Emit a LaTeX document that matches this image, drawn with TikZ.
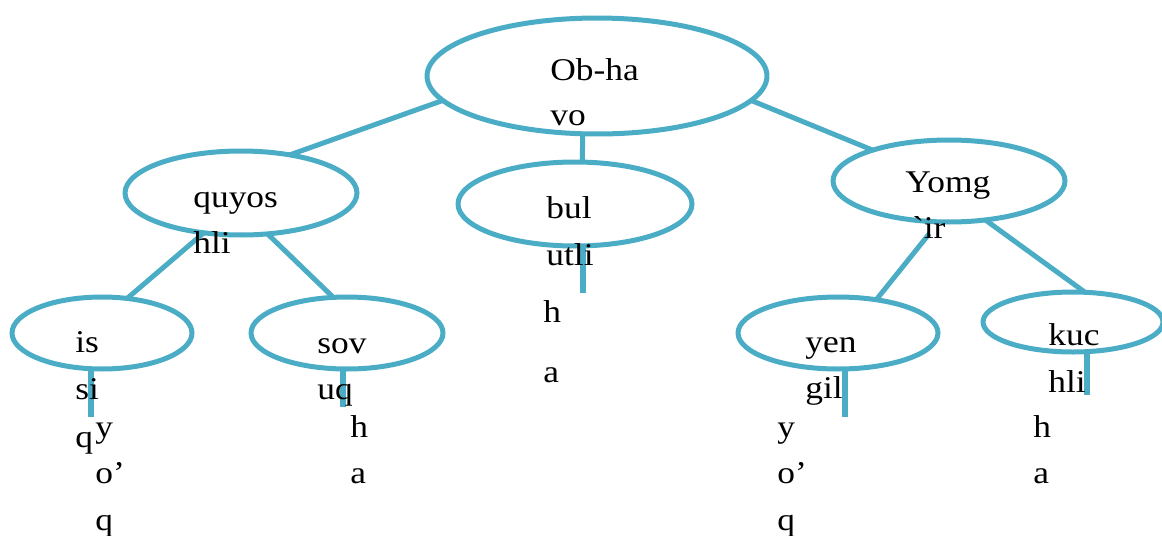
\documentclass[tikz,border=0pt]{standalone}
\usepackage{fontspec}
\setmainfont{Liberation Serif}[FakeStretch=1.12]
\usepackage{tikz}
\usetikzlibrary{shapes.geometric, calc}
\definecolor{treeblue}{HTML}{4BACC6}
\tikzset{
  treenode/.style={
    ellipse, draw=treeblue, line width=0.1cm, inner sep=0pt, outer sep=0pt
  },
  treelink/.style={
    draw=treeblue, line width=0.1cm
  },
  treestub/.style={
    draw=treeblue, line width=0.13cm
  },
  treetext/.style={
    anchor=base west, inner sep=0pt, font=\fontsize{18}{20}\selectfont
  },
}

\begin{document}
\begin{tikzpicture}[x=0.02cm, y=-0.02cm]
  \useasboundingbox (0,0) rectangle (1162,535);

  % --- Ellipses ---
  \node[treenode, minimum width=6.8cm, minimum height=2.32cm] (root) at (597,76) {};
  \node[treenode, minimum width=4.64cm, minimum height=1.68cm] (quyos) at (241,193) {};
  \node[treenode, minimum width=4.68cm, minimum height=1.68cm] (bul) at (575,204) {};
  \node[treenode, minimum width=4.64cm, minimum height=1.64cm] (yomg) at (949,181) {};
  \node[treenode, minimum width=3.6cm, minimum height=1.44cm] (is) at (102,333) {};
  \node[treenode, minimum width=3.84cm, minimum height=1.44cm] (sov) at (347,333) {};
  \node[treenode, minimum width=4.0cm, minimum height=1.44cm] (yen) at (838,333) {};
  \node[treenode, minimum width=3.6cm, minimum height=1.2cm] (kuc) at (1073,322) {};

  % --- Links ---
  \draw[treelink] (root.189) -- (quyos.38);
  \draw[treelink] (root.256) -- (bul.80);
  \draw[treelink] (root.351) -- (yomg.158);
  \draw[treelink] (quyos.227) -- (is.54);
  \draw[treelink] (quyos.303) -- (sov.111);
  \draw[treelink, shorten <=0.3cm] (yomg.256) -- (yen.41);
  \draw[treelink] (yomg.313) -- (kuc.68);

  % --- Stubs ---
  \coordinate (isend) at (91,417);
  \coordinate (sovend) at (343,407);
  \coordinate (bulend) at (583,293);
  \coordinate (yenend) at (845,417);
  \coordinate (kucend) at (1087,395);
  \draw[treestub] (isend |- is.south) -- (isend);
  \draw[treestub] (sovend |- sov.south) -- (sovend);
  \draw[treestub] (bulend |- bul.south) -- (bulend);
  \draw[treestub] (yenend |- yen.south) -- (yenend);
  \draw[treestub] (kucend |- kuc.south) -- (kucend);

  % --- Texts ---
  \node[treetext] (obha) at (550,80) {Ob-ha};
  \node[treetext] (vo) at (550,125) {vo};
  \node[treetext] (quyosA) at (193,207) {quyos};
  \node[treetext] (quyosB) at (193,253) {hli};
  \node[treetext] (bulA) at (546,218) {bul};
  \node[treetext] (bulB) at (546,265) {utli};
  \node[treetext] (bulC) at (543,322) {h};
  \node[treetext] (bulD) at (543,382) {a};
  \node[treetext] (yomgA) at (905,192) {Yomg};
  \node[treetext] (yomgB) at (912,238) {\textasciigrave\kern0.5pt{}ir};
  \node[treetext] (isA) at (75,352) {is};
  \node[treetext] (isB) at (75,399) {si};
  \node[treetext] (isC) at (75,447) {q};
  \node[treetext] (isD) at (95,437) {y};
  \node[treetext] (isE) at (95,483) {o’};
  \node[treetext] (isF) at (95,530) {q};
  \node[treetext] (sovA) at (317,353) {sov};
  \node[treetext] (sovB) at (317,399) {uq};
  \node[treetext] (sovC) at (350,437) {h};
  \node[treetext] (sovD) at (350,483) {a};
  \node[treetext] (yenA) at (805,352) {yen};
  \node[treetext] (yenB) at (805,398) {gil};
  \node[treetext] (yenC) at (777,437) {y};
  \node[treetext] (yenD) at (777,483) {o’};
  \node[treetext] (yenE) at (777,530) {q};
  \node[treetext] (kucA) at (1048,345) {kuc};
  \node[treetext] (kucB) at (1048,392) {hli};
  \node[treetext] (kucC) at (1033,437) {h};
  \node[treetext] (kucD) at (1033,483) {a};
\end{tikzpicture}
\end{document}
